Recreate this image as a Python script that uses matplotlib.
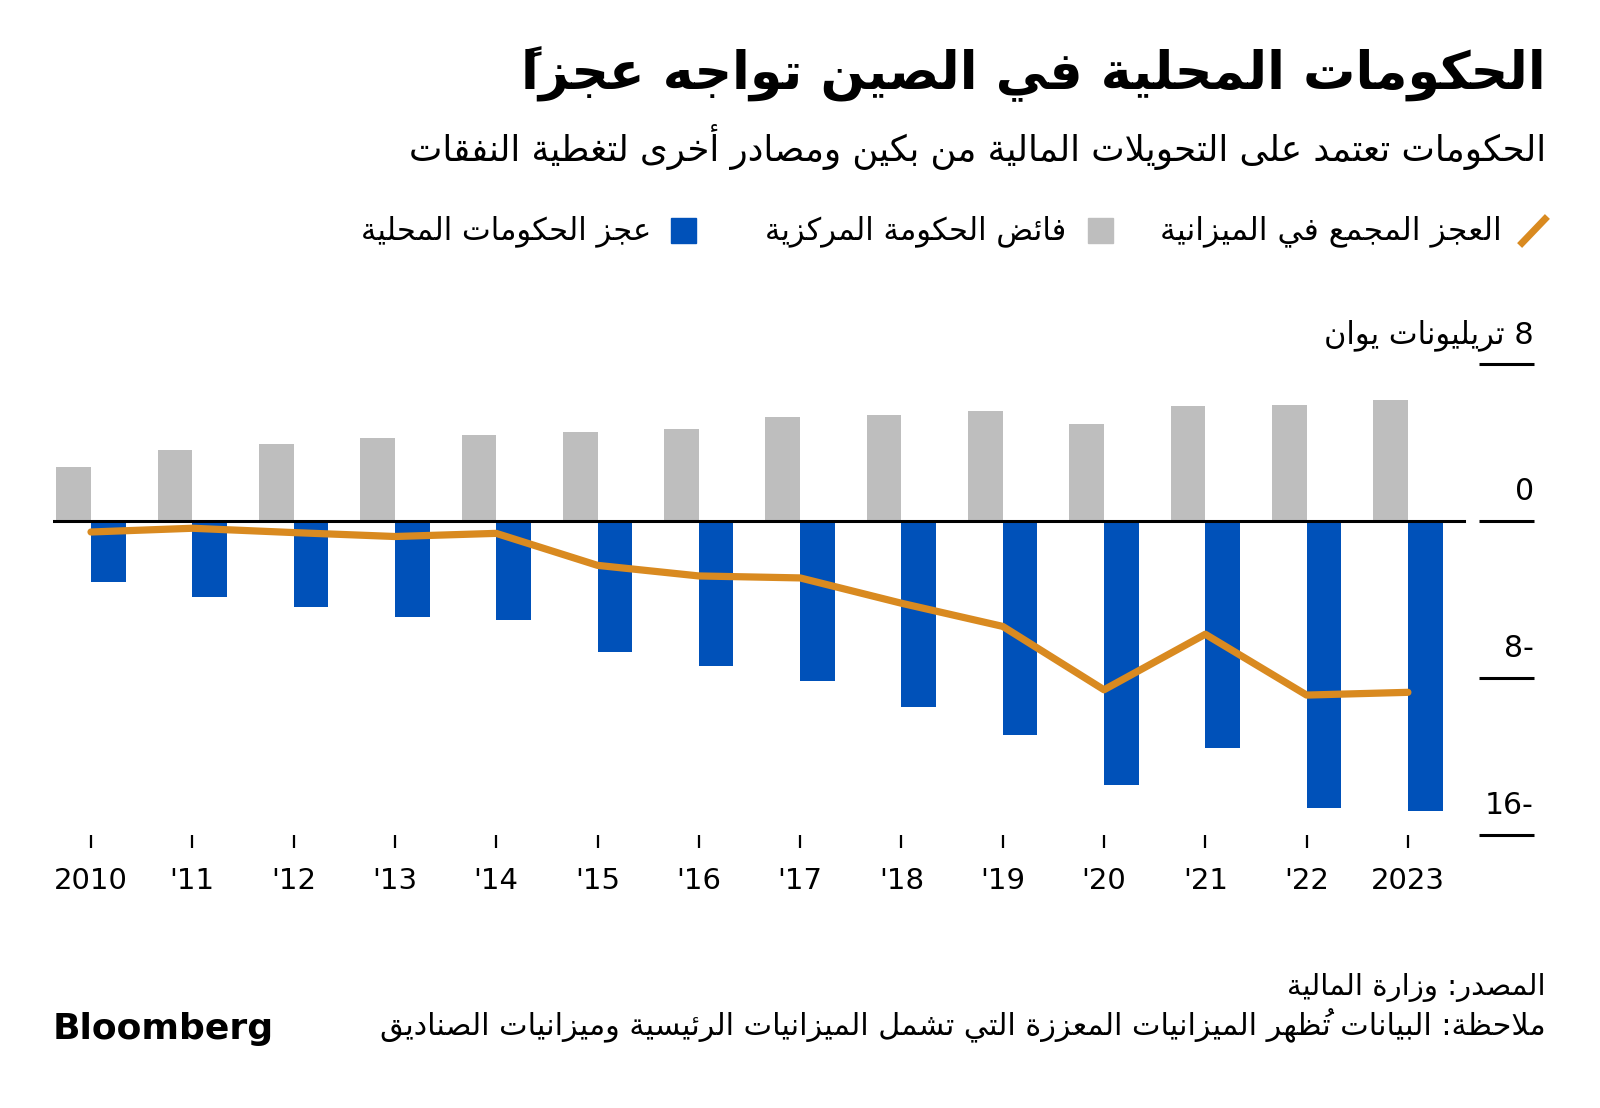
import matplotlib
matplotlib.use('Agg')
import matplotlib.pyplot as plt
from matplotlib.patches import Rectangle
from matplotlib.lines import Line2D
from matplotlib.transforms import offset_copy

plt.rcParams['font.family'] = ['DejaVu Sans']

# ---- data (trillion yuan) ----
years = [2010, 2011, 2012, 2013, 2014, 2015, 2016, 2017, 2018, 2019, 2020, 2021, 2022, 2023]
year_labels = ['2010', "'11", "'12", "'13", "'14", "'15", "'16", "'17", "'18", "'19", "'20", "'21", "'22", '2023']
central_surplus = [2.75, 3.6, 3.9, 4.24, 4.36, 4.51, 4.68, 5.28, 5.42, 5.58, 4.92, 5.84, 5.92, 6.18]
local_deficit = [-3.12, -3.85, -4.38, -4.89, -5.02, -6.7, -7.38, -8.13, -9.49, -10.9, -13.45, -11.55, -14.6, -14.79]
combined_deficit = [-0.56, -0.37, -0.59, -0.79, -0.63, -2.26, -2.8, -2.9, -4.19, -5.37, -8.6, -5.77, -8.87, -8.73]
y_ticks = [8, 0, -8, -16]

title = 'الحكومات المحلية في الصين تواجه عجزاً'
subtitle = 'الحكومات تعتمد على التحويلات المالية من بكين ومصادر أخرى لتغطية النفقات'
lbl_combined = 'العجز المجمع في الميزانية'
lbl_central = 'فائض الحكومة المركزية'
lbl_local = 'عجز الحكومات المحلية'
unit = 'تريليونات يوان'
source = 'المصدر: وزارة المالية'
note = 'ملاحظة: البيانات تُظهر الميزانيات المعززة التي تشمل الميزانيات الرئيسية وميزانيات الصناديق'

GREY = '#bebebe'
BLUE = '#0051b9'
ORANGE = '#d98a20'

# ---- minimal arabic shaping + right-to-left ordering ----
_letters = [('\u0621', 0xFE80, 1), ('\u0622', 0xFE81, 2), ('\u0623', 0xFE83, 2), ('\u0624', 0xFE85, 2),
            ('\u0625', 0xFE87, 2), ('\u0626', 0xFE89, 4), ('\u0627', 0xFE8D, 2), ('\u0628', 0xFE8F, 4),
            ('\u0629', 0xFE93, 2), ('\u062A', 0xFE95, 4), ('\u062B', 0xFE99, 4), ('\u062C', 0xFE9D, 4),
            ('\u062D', 0xFEA1, 4), ('\u062E', 0xFEA5, 4), ('\u062F', 0xFEA9, 2), ('\u0630', 0xFEAB, 2),
            ('\u0631', 0xFEAD, 2), ('\u0632', 0xFEAF, 2), ('\u0633', 0xFEB1, 4), ('\u0634', 0xFEB5, 4),
            ('\u0635', 0xFEB9, 4), ('\u0636', 0xFEBD, 4), ('\u0637', 0xFEC1, 4), ('\u0638', 0xFEC5, 4),
            ('\u0639', 0xFEC9, 4), ('\u063A', 0xFECD, 4), ('\u0641', 0xFED1, 4), ('\u0642', 0xFED5, 4),
            ('\u0643', 0xFED9, 4), ('\u0644', 0xFEDD, 4), ('\u0645', 0xFEE1, 4), ('\u0646', 0xFEE5, 4),
            ('\u0647', 0xFEE9, 4), ('\u0648', 0xFEED, 2), ('\u0649', 0xFEEF, 2), ('\u064A', 0xFEF1, 4)]
JOIN = {c: (cp, n) for c, cp, n in _letters}
LAM_ALEF = {'\u0622': 0xFEF5, '\u0623': 0xFEF7, '\u0625': 0xFEF9, '\u0627': 0xFEFB}


def is_mark(c):
    return '\u064B' <= c <= '\u065F' or c == '\u0670'


def shape(text):
    cl = []
    i = 0
    while i < len(text):
        c = text[i]
        if is_mark(c) and cl:
            cl[-1][1] += c
        elif c == '\u0644' and i + 1 < len(text) and text[i + 1] in LAM_ALEF:
            cl.append([c, '', (LAM_ALEF[text[i + 1]], 2)])
            i += 1
        else:
            cl.append([c, '', JOIN.get(c)])
        i += 1
    out = []
    for k, (c, marks, info) in enumerate(cl):
        if info is None:
            out.append(marks + c)
            continue
        cp, n = info
        prev = k > 0 and cl[k - 1][2] is not None and cl[k - 1][2][1] == 4
        nxt = n == 4 and k + 1 < len(cl) and cl[k + 1][2] is not None and cl[k + 1][2][1] > 1
        if n == 4:
            form = 3 if (prev and nxt) else 1 if prev else 2 if nxt else 0
        elif n == 2:
            form = 1 if prev else 0
        else:
            form = 0
        # mark goes first so it sits over its letter when drawn left to right
        out.append(marks + chr(cp + form))
    return out


def ar(text):
    runs = []
    for g in shape(text):
        ltr = g[-1].isascii() and g[-1].isalnum()
        if runs and runs[-1][0] == ltr:
            runs[-1][1].append(g)
        else:
            runs.append((ltr, [g]))
    s = ''
    for ltr, run in reversed(runs):
        s += ''.join(run if ltr else reversed(run))
    return s


W, H = 1600, 1108


def fx(px):
    return px / W


def fy(py):
    return 1 - py / H


fig = plt.figure(figsize=(16, 11.08), dpi=100)

# ---- axes ----
ax_left, ax_right, ax_top, ax_bottom = 53, 1479, 364, 835
ax = fig.add_axes([fx(ax_left), fy(ax_bottom), (ax_right - ax_left) / W, (ax_bottom - ax_top) / H])
bw = 0.342
ax.bar(years, central_surplus, width=-bw, align='edge', color=GREY, zorder=2)
ax.bar(years, local_deficit, width=bw, align='edge', color=BLUE, zorder=2)
ax.axhline(0, xmin=0, xmax=(1464 - ax_left) / (ax_right - ax_left), color='black', lw=2.2, zorder=3)
ax.plot(years, combined_deficit, color=ORANGE, lw=5.2, solid_capstyle='round', solid_joinstyle='round', zorder=4)

ax.set_xlim(2010 - (91 - ax_left) / 101.3, 2010 + (ax_right - 91) / 101.3)
ax.set_ylim(-16, 8)
for s in ax.spines.values():
    s.set_visible(False)

ax.set_xticks(years)
ax.set_xticklabels(year_labels)
ax.tick_params(axis='x', length=9, width=1.6, direction='out', pad=14, labelsize=21, color='black')

ax.yaxis.tick_right()
ax.set_yticks(y_ticks)
ax.tick_params(axis='y', length=39.6, width=2.2, direction='out', labelright=False, color='black')

lab_tr = offset_copy(ax.get_yaxis_transform(), fig=fig, x=0, y=21, units='dots')
lab_x = (1534 - ax_left) / (ax_right - ax_left)
for v in y_ticks:
    if v == 8:
        s = ar('8 ' + unit)
        fs = 22
    elif v < 0:
        s = f'{abs(v)}-'
        fs = 21.5
    else:
        s = str(v)
        fs = 21.5
    ax.text(lab_x, v, s, transform=lab_tr, ha='right', va='baseline', fontsize=fs)

# ---- titles ----
fig.text(fx(1546), fy(74), ar(title), ha='right', va='center', fontsize=37.5, fontweight='bold')
fig.text(fx(1546), fy(147), ar(subtitle), ha='right', va='center', fontsize=25.6)

# ---- legend ----
ly = 231
fig.add_artist(Line2D([fx(1522), fx(1545)], [fy(243), fy(219)], color=ORANGE, lw=5, transform=fig.transFigure))
fig.text(fx(1502), fy(ly), ar(lbl_combined), ha='right', va='center', fontsize=22.6)
fig.add_artist(Rectangle((fx(1088), fy(243)), 25 / W, 25 / H, color=GREY, transform=fig.transFigure))
fig.text(fx(1066), fy(ly), ar(lbl_central), ha='right', va='center', fontsize=22)
fig.add_artist(Rectangle((fx(671), fy(243)), 25 / W, 25 / H, color=BLUE, transform=fig.transFigure))
fig.text(fx(651), fy(ly), ar(lbl_local), ha='right', va='center', fontsize=22)

# ---- footer ----
fig.text(fx(1546), fy(988), ar(source), ha='right', va='center', fontsize=21)
fig.text(fx(1546), fy(1026), ar(note), ha='right', va='center', fontsize=21.8)
fig.text(fx(53), fy(1029), 'Bloomberg', ha='left', va='center', fontsize=26, fontweight='bold')

fig.savefig('out.png', dpi=100, facecolor='white')
